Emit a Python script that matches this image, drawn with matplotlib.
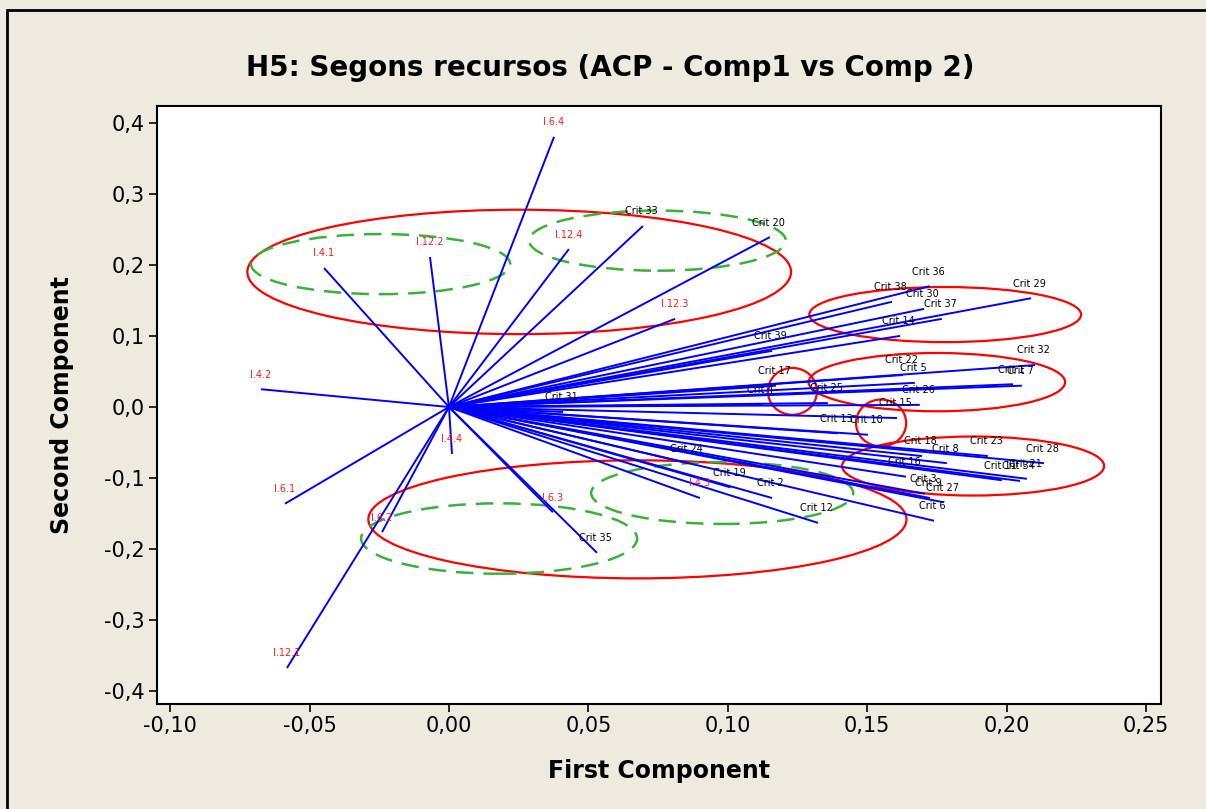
import matplotlib
matplotlib.use("Agg")
import matplotlib.pyplot as plt
from matplotlib.patches import Ellipse, Rectangle
from matplotlib.ticker import FuncFormatter

# loadings of the "I.x.y" indicators (red labels)
ind_names = ["I.6.4", "I.4.1", "I.12.2", "I.12.4", "I.12.3", "I.4.2",
             "I.4.4", "I.6.1", "I.6.2", "I.12.1", "I.6.3", "I.4.3"]
ind_x = [0.0377, -0.0448, -0.0068, 0.0430, 0.0811, -0.0674,
         0.0011, -0.0588, -0.0240, -0.0581, 0.0373, 0.0900]
ind_y = [0.380, 0.1955, 0.211, 0.222, 0.124, 0.025,
         -0.066, -0.136, -0.176, -0.367, -0.148, -0.128]

# loadings of the criteria (black labels)
crit_names = ["Crit 33", "Crit 20", "Crit 36", "Crit 38", "Crit 30", "Crit 29",
              "Crit 37", "Crit 14", "Crit 39", "Crit 32", "Crit 22", "Crit 5",
              "Crit 1", "Crit 7", "Crit 17", "Crit 4", "Crit 25", "Crit 26",
              "Crit 15", "Crit 13", "Crit 10", "Crit 31", "Crit 18", "Crit 8",
              "Crit 23", "Crit 28", "Crit 16", "Crit 11", "Crit 34", "Crit 21",
              "Crit 3", "Crit 9", "Crit 27", "Crit 6", "Crit 24", "Crit 19",
              "Crit 2", "Crit 12", "Crit 35"]
crit_x = [0.0696, 0.1151, 0.1725, 0.1589, 0.1704, 0.2088,
          0.1768, 0.1618, 0.1159, 0.2102, 0.1628, 0.1671,
          0.2023, 0.2055, 0.1173, 0.1123, 0.1359, 0.1689,
          0.1607, 0.1395, 0.1503, 0.0409, 0.1697, 0.1786,
          0.1933, 0.2134, 0.1639, 0.1983, 0.2048, 0.2073,
          0.1707, 0.1725, 0.1775, 0.1740, 0.0857, 0.1010,
          0.1159, 0.1324, 0.0531]
crit_y = [0.2546, 0.239, 0.170, 0.148, 0.138, 0.153,
          0.124, 0.100, 0.079, 0.059, 0.045, 0.034,
          0.032, 0.030, 0.030, 0.003, 0.0056, 0.003,
          -0.0155, -0.037, -0.039, -0.007, -0.069, -0.079,
          -0.069, -0.079, -0.098, -0.103, -0.104, -0.101,
          -0.122, -0.128, -0.134, -0.160, -0.079, -0.113,
          -0.128, -0.163, -0.205]

# groups drawn over the plot: (centre x, centre y, width, height)
red_rings = [(0.0252, 0.190, 0.195, 0.175),
             (0.178, 0.130, 0.0975, 0.0775),
             (0.175, 0.035, 0.092, 0.082),
             (0.1232, 0.022, 0.0176, 0.066),
             (0.155, -0.0225, 0.018, 0.066),
             (0.188, -0.083, 0.094, 0.083),
             (0.0676, -0.158, 0.193, 0.166)]
green_rings = [(-0.0245, 0.201, 0.093, 0.0845),
               (0.0748, 0.234, 0.092, 0.0845),
               (0.098, -0.121, 0.094, 0.087),
               (0.018, -0.185, 0.099, 0.099)]

x_ticks = [-0.10, -0.05, 0.00, 0.05, 0.10, 0.15, 0.20, 0.25]
y_ticks = [-0.4, -0.3, -0.2, -0.1, 0.0, 0.1, 0.2, 0.3, 0.4]

bg = "#EEEAE0"
fig = plt.figure(figsize=(12.06, 8.09), dpi=100, facecolor=bg)
ax = fig.add_axes([0.1302, 0.1298, 0.8325, 0.7392])

for x, y in zip(ind_x + crit_x, ind_y + crit_y):
    ax.plot([0, x], [0, y], color="#0000FF", lw=1.4, solid_capstyle="butt")

for name, x, y in zip(ind_names, ind_x, ind_y):
    ax.annotate(name, (x, y), xytext=(0, 10.5), textcoords="offset points",
                ha="center", va="center", fontsize=7, color="#FF1A1A")
for name, x, y in zip(crit_names, crit_x, crit_y):
    ax.annotate(name, (x, y), xytext=(-1, 10.5), textcoords="offset points",
                ha="center", va="center", fontsize=7, color="black")

for cx, cy, w, h in red_rings:
    ax.add_patch(Ellipse((cx, cy), w, h, fill=False, edgecolor="#FF0000", lw=1.6))
for cx, cy, w, h in green_rings:
    ax.add_patch(Ellipse((cx, cy), w, h, fill=False, edgecolor="#3CB03C",
                         lw=1.8, linestyle=(0, (7, 4))))

ax.set_xlim(-0.1047, 0.2554)
ax.set_ylim(-0.4177, 0.4234)
ax.set_xticks(x_ticks)
ax.set_yticks(y_ticks)
ax.xaxis.set_major_formatter(FuncFormatter(lambda v, p: f"{v:.2f}".replace(".", ",")))
ax.yaxis.set_major_formatter(FuncFormatter(lambda v, p: f"{v:.1f}".replace(".", ",")))
ax.tick_params(direction="out", length=6, width=1.2, labelsize=15, pad=3)
for s in ax.spines.values():
    s.set_linewidth(1.5)

ax.set_xlabel("First Component", fontsize=17, fontweight="bold")
ax.set_ylabel("Second Component", fontsize=17, fontweight="bold")
ax.xaxis.set_label_coords(0.5, -0.092)
ax.yaxis.set_label_coords(-0.0827, 0.5)
fig.text(0.506, 0.916, "H5: Segons recursos (ACP - Comp1 vs Comp 2)",
         ha="center", va="center", fontsize=20, fontweight="bold")

# outer frame of the exported graph window
fig.add_artist(Rectangle((7 / 1206, -0.1), 1.2, 1.1 - 10 / 809, transform=fig.transFigure,
                         fill=False, edgecolor="black", lw=2))

fig.savefig("out.png", dpi=100, facecolor=bg)
